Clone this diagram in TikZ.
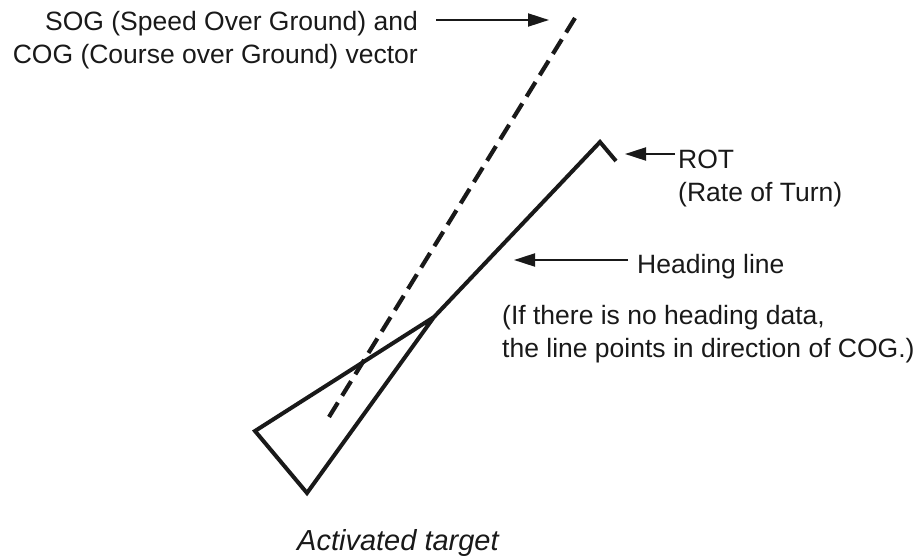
\documentclass[tikz,border=0pt]{standalone}
\usepackage{fontspec}
\setmainfont{Liberation Sans}
\usetikzlibrary{arrows.meta}
\tikzset{
  shape line/.style={draw=black!90,line width=4pt,line join=miter},
  vector line/.style={draw=black!90,line width=4.2pt,dash pattern=on 17pt off 8.1pt},
  pointer/.style={draw=black!90,line width=2pt,-{Triangle[length=21pt,width=13pt]}},
  label text/.style={font=\fontsize{26.5pt}{33pt}\selectfont,text=black!90,inner sep=0pt,align=left}
}
\begin{document}
\begin{tikzpicture}[x=1pt,y=-1pt]
\useasboundingbox (0,0) rectangle (919,557);
\coordinate (tri a) at (255,431);
\coordinate (tri b) at (307,493);
\coordinate (tri c) at (434,317);
\coordinate (bow) at (600,142);
\coordinate (rot end) at (616,161);
\coordinate (vec a) at (329,417);
\coordinate (vec b) at (575,18);
\draw[shape line] (tri c) -- (tri a) -- (tri b) -- (tri c) -- (bow) -- (rot end);
\draw[vector line] (vec b) -- (vec a);
\node[label text,anchor=base east,align=right] (sog) at (418,63) {SOG (Speed Over Ground) and\\COG (Course over Ground) vector};
\coordinate (sog start) at (436,20);
\coordinate (sog tip) at (549,20);
\draw[pointer] (sog start) -- (sog tip);
\node[label text,anchor=base west] (rot) at (678,201) {ROT\\(Rate of Turn)};
\coordinate (rot start) at (675,154);
\coordinate (rot tip) at (625,154);
\draw[pointer] (rot start) -- (rot tip);
\node[label text,anchor=base west] (head) at (637,273) {Heading line};
\coordinate (head start) at (628,260);
\coordinate (head tip) at (514,260);
\draw[pointer] (head start) -- (head tip);
\node[label text,anchor=base west] (note) at (502,357) {(If there is no heading data,\\the line points in direction of COG.)};
\node[label text,anchor=base west,font=\fontsize{29pt}{33pt}\selectfont\itshape] (cap) at (297,550) {Activated target};
\end{tikzpicture}
\end{document}
